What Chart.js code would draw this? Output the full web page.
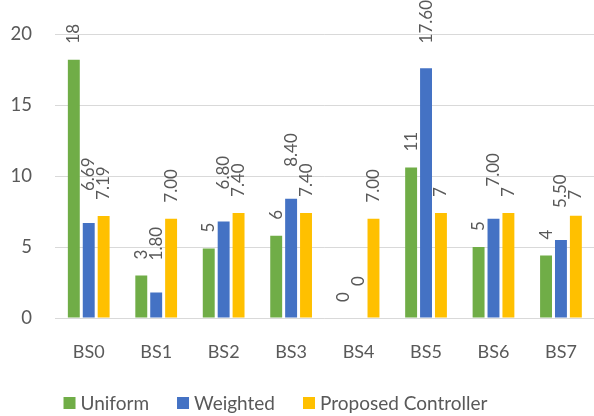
<!DOCTYPE html>
<html><head><meta charset="utf-8">
<script src="https://cdn.jsdelivr.net/npm/chart.js@4"></script>
<style>html,body{margin:0;padding:0;background:#fff;overflow:hidden;width:594px;height:416px}canvas{display:block}</style>
</head><body>
<canvas id="c" width="600" height="416"></canvas>
<script>
const categories = ['BS0','BS1','BS2','BS3','BS4','BS5','BS6','BS7'];
const seriesNames = ['Uniform','Weighted','Proposed Controller'];
const uniform = [18.2, 3.0, 4.9, 5.8, 0, 10.6, 5.0, 4.4];
const weighted = [6.69, 1.80, 6.80, 8.40, 0, 17.60, 7.00, 5.50];
const proposed = [7.19, 7.00, 7.40, 7.40, 7.00, 7.40, 7.40, 7.20];
const uniformText = ['18','3','5','6','0','11','5','4'];
const weightedText = ['6.69','1.80','6.80','8.40','0','17.60','7.00','5.50'];
const proposedText = ['7.19','7.00','7.40','7.40','7.00','7','7','7'];
const yTicks = [0, 5, 10, 15, 20];

const FONT = 'Lato';
const TEXT = '#595959';

const valueLabels = {
  id: 'valueLabels',
  afterDatasetsDraw(chart) {
    const ctx = chart.ctx;
    ctx.save();
    ctx.font = '17px ' + FONT;
    ctx.fillStyle = TEXT;
    ctx.textAlign = 'left';
    ctx.textBaseline = 'middle';
    chart.data.datasets.forEach((ds, di) => {
      const meta = chart.getDatasetMeta(di);
      meta.data.forEach((bar, i) => {
        const txt = ds.valueText[i];
        const w = ctx.measureText(txt).width;
        let start = bar.y - ds.labelGap;
        if (start - w < 0) start = w;
        ctx.save();
        ctx.translate(bar.x, start);
        ctx.rotate(-Math.PI / 2);
        ctx.fillText(txt, 0, 0);
        ctx.restore();
      });
    });
    ctx.restore();
  }
};

const customLegend = {
  id: 'customLegend',
  afterDraw(chart) {
    const ctx = chart.ctx;
    ctx.save();
    ctx.font = '19px ' + FONT;
    ctx.textBaseline = 'middle';
    ctx.textAlign = 'left';
    const box = 12, gap = 5, sep = 28;
    const ds = chart.data.datasets;
    const widths = ds.map(d => ctx.measureText(d.label).width);
    const total = widths.reduce((a, w) => a + box + gap + w, 0) + sep * (ds.length - 1);
    let x = 275.5 - total / 2;
    const y = 403;
    ds.forEach((d, i) => {
      ctx.fillStyle = d.backgroundColor;
      ctx.fillRect(x, y - box / 2, box, box);
      ctx.fillStyle = TEXT;
      ctx.fillText(d.label, x + box + gap, y + 1);
      x += box + gap + widths[i] + sep;
    });
    ctx.restore();
  }
};

new Chart(document.getElementById('c'), {
  type: 'bar',
  data: {
    labels: categories,
    datasets: [
      { label: seriesNames[0], data: uniform, backgroundColor: '#70AD47', valueText: uniformText, labelGap: 16 },
      { label: seriesNames[1], data: weighted, backgroundColor: '#4472C4', valueText: weightedText, labelGap: 32 },
      { label: seriesNames[2], data: proposed, backgroundColor: '#FFC000', valueText: proposedText, labelGap: 16 }
    ]
  },
  options: {
    responsive: false,
    animation: false,
    layout: { padding: { top: 21, right: 2, bottom: 48, left: 0 } },
    plugins: { legend: { display: false }, tooltip: { enabled: false } },
    datasets: { bar: { categoryPercentage: 0.663, barPercentage: 0.8 } },
    scales: {
      x: {
        grid: { display: false, drawTicks: false },
        border: { display: false },
        ticks: { color: TEXT, font: { family: FONT, size: 18 }, padding: 23 },
        afterFit(s) { s.height = 50; }
      },
      y: {
        min: yTicks[0], max: yTicks[yTicks.length - 1],
        afterBuildTicks(s) { s.ticks = yTicks.map(v => ({ value: v })); },
        ticks: { color: TEXT, font: { family: FONT, size: 18.5 }, padding: 23 },
        grid: { color: '#D9D9D9', drawTicks: false, lineWidth: 1 },
        border: { display: false },
        afterFit(s) { s.width = 55; }
      }
    }
  },
  plugins: [valueLabels, customLegend]
});
</script>
</body></html>
